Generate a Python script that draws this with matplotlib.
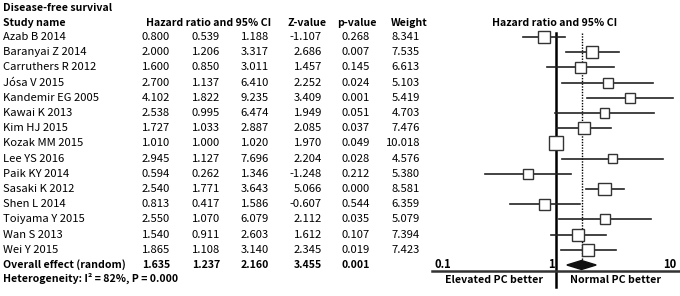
import numpy as np
import matplotlib
matplotlib.use("Agg")
import matplotlib.pyplot as plt
from matplotlib.patches import Rectangle, Polygon

plt.rcParams['font.family'] = ['Noto Sans CJK SC', 'DejaVu Sans']

studies = ["Azab B 2014", "Baranyai Z 2014", "Carruthers R 2012", "Jósa V 2015",
           "Kandemir EG 2005", "Kawai K 2013", "Kim HJ 2015", "Kozak MM 2015",
           "Lee YS 2016", "Paik KY 2014", "Sasaki K 2012", "Shen L 2014",
           "Toiyama Y 2015", "Wan S 2013", "Wei Y 2015"]
hr = [0.800, 2.000, 1.600, 2.700, 4.102, 2.538, 1.727, 1.010,
      2.945, 0.594, 2.540, 0.813, 2.550, 1.540, 1.865]
lower = [0.539, 1.206, 0.850, 1.137, 1.822, 0.995, 1.033, 1.000,
         1.127, 0.262, 1.771, 0.417, 1.070, 0.911, 1.108]
upper = [1.188, 3.317, 3.011, 6.410, 9.235, 6.474, 2.887, 1.020,
         7.696, 1.346, 3.643, 1.586, 6.079, 2.603, 3.140]
zval = ["-1.107", "2.686", "1.457", "2.252", "3.409", "1.949", "2.085", "1.970",
        "2.204", "-1.248", "5.066", "-0.607", "2.112", "1.612", "2.345"]
pval = ["0.268", "0.007", "0.145", "0.024", "0.001", "0.051", "0.037", "0.049",
        "0.028", "0.212", "0.000", "0.544", "0.035", "0.107", "0.019"]
weight = [8.341, 7.535, 6.613, 5.103, 5.419, 4.703, 7.476, 10.018,
          4.576, 5.380, 8.581, 6.359, 5.079, 7.394, 7.423]
overall = (1.635, 1.237, 2.160, "3.455", "0.001")

W, H = 680, 296
fig = plt.figure(figsize=(W / 100, H / 100), dpi=100)

# row coordinates: row i at pixel y = 37 + 15.2*i
y0, dy = 37.0, 15.2
ylim = ((H - y0) / dy, (0 - y0) / dy)

# table axes: x in pixels, y in rows
tab = fig.add_axes([0, 0, 1, 1])
tab.set_xlim(0, W)
tab.set_ylim(*ylim)
tab.axis('off')

fs = 8.1
fb = 7.6
tab.text(3, (8 - y0) / dy, "Disease-free survival", fontsize=fb, fontweight='bold', va='center')
hy = (23 - y0) / dy
tab.text(3, hy, "Study name", fontsize=fb, fontweight='bold', va='center')
tab.text(209, hy, "Hazard ratio and 95% CI", fontsize=fb, fontweight='bold', va='center', ha='center')
tab.text(307, hy, "Z-value", fontsize=fb, fontweight='bold', va='center', ha='center')
tab.text(357, hy, "p-value", fontsize=fb, fontweight='bold', va='center', ha='center')
tab.text(409, hy, "Weight", fontsize=fb, fontweight='bold', va='center', ha='center')
tab.text(555, hy, "Hazard ratio and 95% CI", fontsize=fb, fontweight='bold', va='center', ha='center')

cols = [170, 220, 269, 322, 370, 420]
for i, s in enumerate(studies):
    tab.text(3, i, s, fontsize=fs, va='center')
    vals = [f"{hr[i]:.3f}", f"{lower[i]:.3f}", f"{upper[i]:.3f}", zval[i], pval[i], f"{weight[i]:.3f}"]
    for x, v in zip(cols, vals):
        tab.text(x, i, v, fontsize=fs, va='center', ha='right')

n = len(studies)
tab.text(3, n, "Overall effect (random)", fontsize=fb, fontweight='bold', va='center')
ovals = [f"{overall[0]:.3f}", f"{overall[1]:.3f}", f"{overall[2]:.3f}", overall[3], overall[4]]
for x, v in zip(cols[:5], ovals):
    tab.text(x, n, v, fontsize=fb, fontweight='bold', va='center', ha='right')
tab.text(3, (278 - y0) / dy, "Heterogeneity: I² = 82%, P = 0.000", fontsize=fb,
         fontweight='bold', va='center')

# forest axes: log x, 121 px per decade, 0.1 at px 434.7
ppd = 121.0
x01 = 434.7
left_px = 432
xmin = 10 ** (-1 + (left_px - x01) / ppd)
xmax = 10 ** (-1 + (W - x01) / ppd)
ax = fig.add_axes([left_px / W, 0, 1 - left_px / W, 1])
ax.set_xscale('log')
ax.set_xlim(xmin, xmax)
ax.set_ylim(*ylim)
ax.axis('off')

def px2row(p):
    return (p - y0) / dy

# reference lines
ax.plot([1, 1], [px2row(33), px2row(287)], color='black', lw=1.8, zorder=2)
ax.plot([overall[0], overall[0]], [px2row(33), px2row(262)], color='black', lw=1.0,
        ls=(0, (1, 1)), zorder=2)
axis_row = px2row(271)
ax.plot([xmin, xmax], [axis_row, axis_row], color='#333333', lw=1.8, clip_on=False)

# study CIs and boxes
kmax = 14.0 / np.sqrt(max(weight))
for i in range(n):
    ax.plot([lower[i], upper[i]], [i, i], color='#222222', lw=1.2, zorder=3)
    side = kmax * np.sqrt(weight[i])  # px
    xl = 10 ** (np.log10(hr[i]) - side / 2 / ppd)
    xr = 10 ** (np.log10(hr[i]) + side / 2 / ppd)
    hh = side / dy
    ax.add_patch(Rectangle((xl, i - hh / 2), xr - xl, hh, facecolor='white',
                           edgecolor='#333333', lw=1.0, zorder=4))

# overall diamond
dh = 4.5 / dy
ax.add_patch(Polygon([[overall[1], n], [overall[0], n - dh], [overall[2], n], [overall[0], n + dh]],
                     closed=True, facecolor='#111111', edgecolor='#111111', zorder=4))

# tick labels
ty = px2row(265)
ax.text(0.1, ty, "0.1", fontsize=fs, fontweight='bold', ha='left', va='center')
ax.text(0.985, ty, "1", fontsize=fs, fontweight='bold', ha='right', va='center')
ax.text(9.9, ty, "10", fontsize=fs, fontweight='bold', ha='right', va='center')

by = px2row(280)
ax.text(10 ** ((494 - 555.7) / ppd), by, "Elevated PC better", fontsize=fb, fontweight='bold',
        ha='center', va='center')
ax.text(10 ** ((615 - 555.7) / ppd), by, "Normal PC better", fontsize=fb, fontweight='bold',
        ha='center', va='center')

fig.savefig("out.png", dpi=100)
